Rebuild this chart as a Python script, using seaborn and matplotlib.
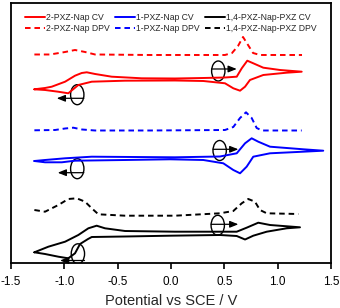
import matplotlib
matplotlib.use("Agg")
import matplotlib.pyplot as plt
import pandas as pd
import seaborn as sns
from matplotlib.patches import Ellipse

# potential (V vs SCE) and offset current (arb. units)
red_cv_x = [-1.281, -1.181, -1.118, -0.993, -0.900, -0.837, -0.790, -0.712, -0.556, -0.275,
            0.037, 0.303, 0.506, 0.616, 0.663, 0.715, 0.771, 0.865, 1.022, 1.225,
            1.084, 0.865, 0.740, 0.694, 0.647, 0.584, 0.506, 0.303, 0.037, -0.431,
            -0.743, -0.869, -0.963, -1.059, -1.181, -1.281]
red_cv_y = [176.7, 178.0, 179.3, 184.3, 190.3, 193.0, 193.7, 192.0, 189.3, 187.7,
            187.5, 188.0, 188.5, 189.3, 197.7, 205.3, 202.7, 198.3, 196.0, 194.3,
            193.3, 191.0, 186.0, 179.3, 175.3, 177.7, 182.7, 185.0, 185.5, 185.3,
            184.3, 181.0, 172.7, 174.3, 176.0, 176.7]
red_dpv_x = [-1.281, -1.134, -0.993, -0.900, -0.806, -0.712, -0.197, 0.506, 0.572, 0.628,
             0.675, 0.722, 0.769, 0.834, 1.228]
red_dpv_y = [211.5, 211.5, 214.0, 216.0, 214.0, 211.5, 211.0, 211.0, 213.0, 220.0,
             229.0, 221.0, 213.0, 211.0, 211.0]

blue_cv_x = [-1.281, -1.181, -0.993, -0.743, 0.037, 0.459, 0.616, 0.694, 0.756, 0.818,
             0.928, 1.240, 1.427, 1.240, 0.928, 0.771, 0.709, 0.647, 0.584, 0.490,
             0.303, -0.009, -0.431, -0.900, -1.024, -1.181, -1.281]
blue_cv_y = [105.0, 106.0, 107.7, 109.3, 108.7, 109.5, 112.7, 122.7, 127.7, 124.3,
             119.3, 116.7, 115.3, 114.3, 112.7, 109.3, 99.3, 92.7, 96.0, 102.7,
             106.0, 106.7, 106.0, 105.3, 103.7, 103.7, 105.0]
blue_dpv_x = [-1.281, -1.087, -0.993, -0.916, -0.834, -0.712, -0.197, 0.506, 0.584, 0.647,
              0.703, 0.756, 0.803, 0.853, 1.225]
blue_dpv_y = [135.7, 136.0, 137.5, 138.3, 136.5, 135.5, 135.5, 136.0, 139.0, 148.0,
              153.7, 148.0, 138.0, 135.5, 135.5]

black_cv_x = [-1.281, -1.150, -0.993, -0.869, -0.775, -0.697, -0.619, -0.431, 0.037, 0.616,
              0.709, 0.818, 0.928, 1.209, 1.084, 0.897, 0.771, 0.694, 0.616, 0.459,
              -0.009, -0.431, -0.743, -0.778, -0.853, -0.900, -0.963, -1.056, -1.181, -1.281]
black_cv_y = [13.7, 19.3, 24.3, 31.0, 37.7, 40.3, 37.7, 35.0, 34.3, 34.3,
              38.3, 43.3, 41.0, 38.7, 37.7, 34.3, 30.3, 26.5, 30.0, 31.0,
              30.3, 29.5, 29.0, 27.0, 22.0, 12.7, 7.7, 9.3, 12.0, 13.7]
black_dpv_x = [-1.281, -1.181, -1.056, -0.963, -0.884, -0.806, -0.743, -0.681, -0.431, 0.037,
               0.459, 0.584, 0.663, 0.724, 0.787, 0.834, 0.897, 1.193]
black_dpv_y = [56.0, 54.3, 61.0, 67.0, 67.7, 64.3, 57.7, 51.7, 50.3, 50.3,
               52.7, 55.0, 62.7, 67.0, 64.3, 56.0, 52.7, 52.0]

labels_cv = ["2-PXZ-Nap CV", "1-PXZ-Nap CV", "1,4-PXZ-Nap-PXZ CV"]
labels_dpv = ["2-PXZ-Nap DPV", "1-PXZ-Nap DPV", "1,4-PXZ-Nap-PXZ DPV"]
colors = ["#ff0000", "#0000ff", "#000000"]
xticks = [-1.5, -1.0, -0.5, 0.0, 0.5, 1.0, 1.5]

# scan-direction markers: ellipse centre, arrow height, arrow tip x
marker_x = [0.443, -0.879, 0.456, -0.879, 0.438, -0.873]
marker_y = [195.0, 171.3, 115.5, 97.3, 40.7, 12.2]
arrow_y = [197.0, 167.7, 116.7, 93.3, 41.7, 5.5]
arrow_tip = [0.616, -1.071, 0.631, -1.062, 0.631, -1.040]

sns.set_style("ticks")
plt.rcParams["font.family"] = ["Liberation Sans", "DejaVu Sans"]
plt.rcParams["lines.scale_dashes"] = False

fig = plt.figure(figsize=(3.4, 3.08), dpi=100)
ax = fig.add_axes([0.0324, 0.1461, 0.9412, 0.8442])

series = [
    (red_cv_x, red_cv_y, red_dpv_x, red_dpv_y),
    (blue_cv_x, blue_cv_y, blue_dpv_x, blue_dpv_y),
    (black_cv_x, black_cv_y, black_dpv_x, black_dpv_y),
]
for (cx, cy, dx, dy), c, lc, ld in zip(series, colors, labels_cv, labels_dpv):
    cv = pd.DataFrame({"E": cx, "I": cy})
    dpv = pd.DataFrame({"E": dx, "I": dy})
    sns.lineplot(data=cv, x="E", y="I", sort=False, estimator=None, color=c,
                 lw=1.4, label=lc, ax=ax)
    sns.lineplot(data=dpv, x="E", y="I", sort=False, estimator=None, color=c,
                 lw=1.4, label=ld, ax=ax)
    ax.lines[-1].set_dashes([4.0, 2.8])

for mx, my, ay, tip in zip(marker_x, marker_y, arrow_y, arrow_tip):
    ax.add_patch(Ellipse((mx, my), 0.125, 20, fill=False, ec="black", lw=1.0))
    start = mx - 0.062 if tip > mx else mx + 0.062
    ax.annotate("", xy=(tip, ay), xytext=(start, ay),
                arrowprops=dict(arrowstyle="-|>,head_length=0.5,head_width=0.2",
                                color="black", lw=0.9, shrinkA=0, shrinkB=0))

ax.set_xlim(-1.5, 1.5)
ax.set_ylim(3, 263)
ax.set_xticks(xticks)
ax.set_xticklabels([f"{v:.1f}" for v in xticks], fontsize=8.5)
ax.set_yticks([])
ax.set_xlabel("Potential vs SCE / V", fontsize=10.5, labelpad=5)
ax.set_ylabel("")
ax.tick_params(axis="x", direction="out", length=4, width=1.2, pad=5, colors="black")
for s in ax.spines.values():
    s.set_linewidth(1.3)
    s.set_color("black")

handles, labels = ax.get_legend_handles_labels()
for h in handles[1::2]:
    h.set_dashes([4.0, 2.8])
ax.legend(handles, labels, ncol=3, loc="upper left", bbox_to_anchor=(0.044, 0.962),
          frameon=False, fontsize=6.2, handlelength=2.3, handletextpad=0.15,
          columnspacing=0.6, labelspacing=0.3, borderpad=0, borderaxespad=0)

fig.savefig("out.png", dpi=100)
